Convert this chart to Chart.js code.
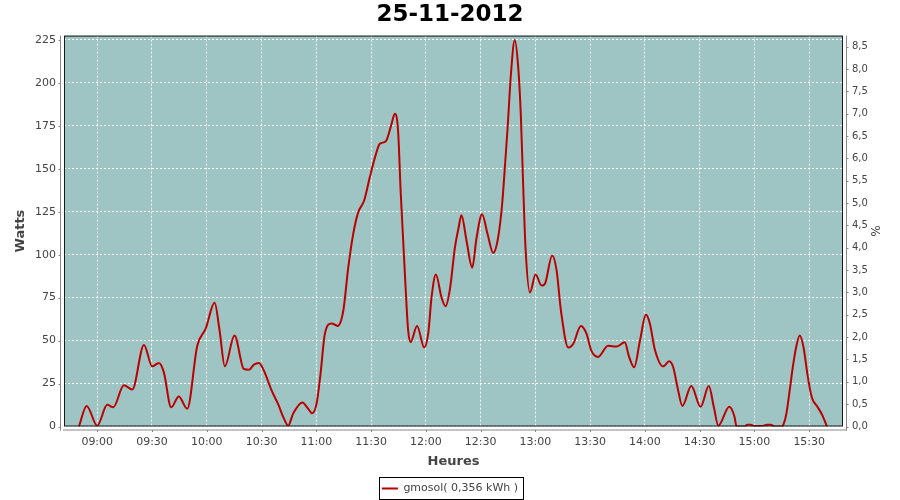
<!DOCTYPE html>
<html>
<head>
<meta charset="utf-8">
<script src="https://cdn.jsdelivr.net/npm/chart.js@4/dist/chart.umd.min.js"></script>
<style>
  html, body { margin: 0; padding: 0; background: #fff; }
  #wrap { width: 900px; height: 500px; }
</style>
</head>
<body>
<div id="wrap"><canvas id="powerChart" width="900" height="500"></canvas></div>
<script>
// datos
const chartTitle = '25-11-2012';
const seriesLabel = 'gmosol( 0,356 kWh )';

const times = ['08:50','08:54:12','09:00','09:05:30','09:08:48','09:14:36','09:19:12','09:25:36','09:30:06','09:33:48',
  '09:36:30','09:40:30','09:44:42','09:49:18','09:54:48','09:59:24','10:04:18','10:07','10:09:54','10:15:12',
  '10:20:18','10:23:06','10:25:48','10:28:36','10:31:18','10:35:30','10:39:06','10:41:54','10:44:36','10:47:18',
  '10:52:18','10:55:36','10:57:42','11:00:06','11:02:18','11:04:42','11:08:24','11:11:42','11:14:48','11:17:30',
  '11:20:12','11:22:54','11:26:12','11:29:18','11:32:06','11:34:48','11:38:06','11:41:12','11:43','11:44:48',
  '11:46:12','11:47:36','11:48:54','11:50:18','11:51:36','11:55:12','11:59:06','12:01:18','12:03:06','12:05:30',
  '12:08:36','12:10:48','12:13:12','12:15:54','12:18','12:19:30','12:22:18','12:25:24','12:27:48','12:30:48',
  '12:33:48','12:36:54','12:39:36','12:41:48','12:43:18','12:44:48','12:46:36','12:48:42','12:50:36','12:52',
  '12:53:18','12:54:36','12:57','13:00:06','13:03:24','13:05:12','13:09:12','13:11:36','13:14','13:18',
  '13:20:42','13:24:54','13:28','13:30:42','13:34:24','13:39:48','13:44:24','13:49','13:51:12','13:54:06',
  '13:57:18','14:00:30','14:02:42','14:05:24','14:10','14:13:18','14:15:30','14:18','14:20:30','14:25:24',
  '14:30:30','14:35','14:37:48','14:40:12','14:46:12','14:49','14:50:12','14:54:36','14:56','14:58',
  '15:00','15:04','15:07','15:09','15:11','15:15','15:16','15:17:30','15:19:18','15:21',
  '15:22:48','15:24:48','15:26:54','15:29','15:31:24','15:34:30','15:37:12','15:39:42'];

const watts = [0,12,0.5,12.6,11.2,24,21.5,47.5,35,37,
  31.5,11.2,17.5,10.3,47,57,72,56,35,53,
  33.5,33,36,37,32.5,21,13,5.5,0.5,7.5,
  14,10.3,7.7,13,30.5,54,60,58.5,67.5,92.5,
  112,124.5,131.5,145,156.5,164.5,166,176,182,172,
  137,108,81,56,49,58.5,46,54,75,88.5,
  75,70,80,104,116,123,108,92.5,110,123.5,
  112,101,110,129.5,151,174,205,225,209,182,
  141,104,78,88.5,82,83,99.5,91,67.5,46,
  48,58.5,54,44,40.5,47,46.5,49,41,34.5,
  50,65,60,45,35,38,34.5,22,12,23.5,
  11.5,23.5,11,0.5,11.5,6,0,0,1,1,
  0.3,0.3,1,1,0,0,1.5,7.5,21,34.5,
  46,53,46,30.5,17,11.5,6.5,0];

// limites de los ejes
const xStart = '08:41:48';
const xEnd = '15:48:30';
const wattsMax = 227.5;
const percentMax = 8.75;

function toMinutes(t) {
  const p = t.split(':').map(Number);
  return p[0] * 60 + p[1] + (p[2] || 0) / 60;
}

function fmtHour(m) {
  const h = Math.floor(m / 60);
  const mm = Math.round(m - h * 60);
  return String(h).padStart(2, '0') + ':' + String(mm).padStart(2, '0');
}

const points = times.map((t, i) => ({ x: toMinutes(t), y: watts[i] }));

const FONT = "'DejaVu Sans', sans-serif";
const TXT = '#444444';

// fondo del area y lineas de ejes separadas (estilo jfreechart)
const plotDecor = {
  id: 'plotDecor',
  beforeDraw(chart) {
    const { ctx, chartArea: a } = chart;
    ctx.save();
    ctx.fillStyle = '#9ec4c4';
    ctx.fillRect(a.left, a.top, a.right - a.left, a.bottom - a.top);
    ctx.restore();
  },
  afterDraw(chart) {
    const { ctx, chartArea: a, scales } = chart;
    ctx.save();
    ctx.strokeStyle = '#1a1a1a';
    ctx.lineWidth = 1;
    ctx.strokeRect(a.left + 0.5, a.top + 0.5, a.right - a.left - 1, a.bottom - a.top - 1);

    ctx.strokeStyle = '#888888';
    ctx.beginPath();
    // eje izquierdo
    const lx = a.left - 3.5;
    ctx.moveTo(lx, a.top); ctx.lineTo(lx, a.bottom + 4);
    scales.y.ticks.forEach(t => {
      const y = Math.round(scales.y.getPixelForValue(t.value)) + 0.5;
      ctx.moveTo(lx - 2, y); ctx.lineTo(lx, y);
    });
    // eje derecho
    const rx = a.right + 3.5;
    ctx.moveTo(rx, a.top); ctx.lineTo(rx, a.bottom + 4);
    scales.y1.ticks.forEach(t => {
      const y = Math.round(scales.y1.getPixelForValue(t.value)) + 0.5;
      ctx.moveTo(rx, y); ctx.lineTo(rx + 2, y);
    });
    // eje inferior
    const by = a.bottom + 3.5;
    ctx.moveTo(a.left - 1, by); ctx.lineTo(a.right + 4, by);
    scales.x.ticks.forEach(t => {
      const x = Math.round(scales.x.getPixelForValue(t.value)) + 0.5;
      ctx.moveTo(x, by); ctx.lineTo(x, by + 2);
    });
    ctx.stroke();

    // marco de la leyenda
    const hb = chart.legend.legendHitBoxes[0];
    if (hb) {
      ctx.strokeStyle = '#000000';
      const cy = hb.top + hb.height / 2;
      ctx.strokeRect(Math.round(hb.left) - 2.5, Math.round(cy) - 11.5, Math.round(hb.width) + 8, 22);
    }
    ctx.restore();
  }
};

const ctx = document.getElementById('powerChart').getContext('2d');
const chart = new Chart(ctx, {
  type: 'line',
  data: {
    datasets: [{
      label: seriesLabel,
      data: points,
      borderColor: '#bb0000',
      backgroundColor: '#bb0000',
      borderWidth: 2,
      pointRadius: 0,
      fill: false,
      cubicInterpolationMode: 'monotone',
      yAxisID: 'y'
    }]
  },
  options: {
    responsive: false,
    animation: false,
    layout: { padding: { top: 0, left: 0, right: 0, bottom: -4 } },
    plugins: {
      title: {
        display: true,
        text: chartTitle,
        color: '#000000',
        font: { family: FONT, size: 23, weight: 'bold' },
        padding: { top: 1, bottom: 7 }
      },
      legend: {
        position: 'bottom',
        labels: {
          color: TXT,
          font: { family: FONT, size: 11 },
          usePointStyle: true,
          pointStyle: 'line',
          pointStyleWidth: 16,
          boxHeight: 11,
          padding: 3.5
        }
      },
      tooltip: { enabled: false }
    },
    scales: {
      x: {
        type: 'linear',
        min: toMinutes(xStart),
        max: toMinutes(xEnd),
        afterFit: s => { s.height = 53; },
        ticks: {
          stepSize: 30,
          includeBounds: false,
          autoSkip: false,
          maxRotation: 0,
          padding: 9,
          color: TXT,
          font: { family: FONT, size: 11 },
          callback: v => fmtHour(v)
        },
        grid: { color: '#ffffff', lineWidth: 1, drawTicks: false },
        border: { display: false, dash: [2, 2] },
        title: {
          display: true, text: 'Heures', color: TXT,
          font: { family: FONT, size: 13, weight: 'bold' },
          padding: { top: 0, bottom: 10 }
        }
      },
      y: {
        position: 'left',
        min: 0,
        max: wattsMax,
        afterFit: s => { s.width = 64; },
        ticks: {
          stepSize: 25,
          includeBounds: false,
          padding: 8,
          color: TXT,
          font: { family: FONT, size: 11 }
        },
        grid: { color: '#ffffff', lineWidth: 1, drawTicks: false },
        border: { display: false, dash: [2, 2] },
        title: {
          display: true, text: 'Watts', color: TXT,
          font: { family: FONT, size: 13, weight: 'bold' },
          padding: { top: 13, bottom: 0 }
        }
      },
      y1: {
        position: 'right',
        min: 0,
        max: percentMax,
        afterFit: s => { s.width = 57; },
        ticks: {
          stepSize: 0.5,
          includeBounds: false,
          padding: 9,
          color: TXT,
          font: { family: FONT, size: 10 },
          callback: v => v.toFixed(1).replace('.', ',')
        },
        grid: { display: false, drawTicks: false },
        border: { display: false },
        title: {
          display: true, text: '%', color: TXT,
          font: { family: FONT, size: 12 },
          padding: { top: 19, bottom: 0 }
        }
      }
    }
  },
  plugins: [plotDecor]
});
</script>
</body>
</html>
